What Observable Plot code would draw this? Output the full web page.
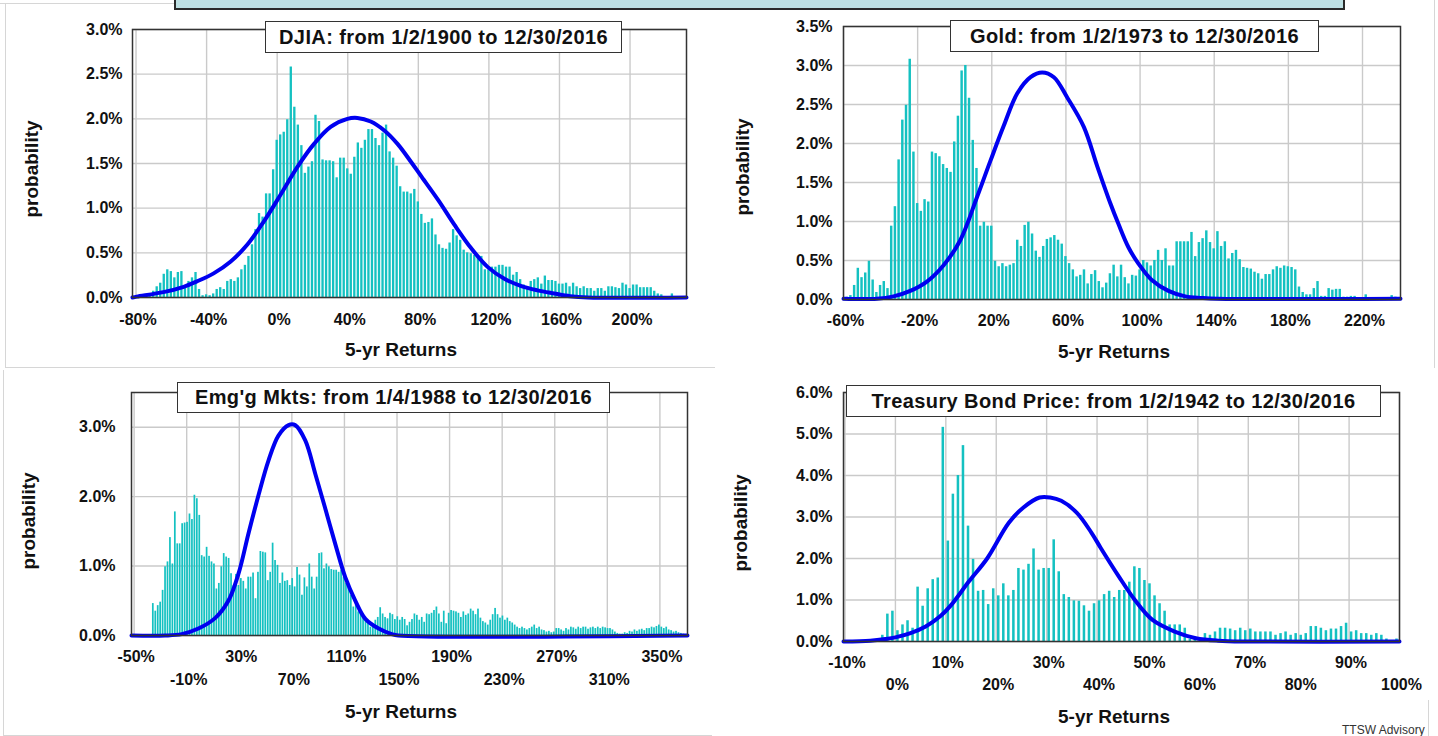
<!DOCTYPE html>
<html><head><meta charset="utf-8">
<script src="https://cdn.jsdelivr.net/npm/d3@7"></script>
<script src="https://cdn.jsdelivr.net/npm/@observablehq/plot@0.6"></script>
<style>
body{margin:0;background:#fff;font-family:"Liberation Sans",Arial,sans-serif;}
#page{position:relative;width:1438px;height:736px;overflow:hidden;background:#fff;}
.panel{position:absolute;}
.tbox{position:absolute;background:#fff;border:1.5px solid #333;box-sizing:border-box;font-weight:bold;font-size:20px;letter-spacing:0.4px;display:flex;align-items:center;justify-content:center;color:#111;white-space:nowrap;}
.xl{position:absolute;font-weight:bold;font-size:19px;color:#111;transform:translate(-50%,-50%);white-space:nowrap;}
.yl{position:absolute;font-weight:bold;font-size:19px;color:#111;transform:translate(-50%,-50%) rotate(-90deg);white-space:nowrap;}
.ln{position:absolute;background:#d6d6d6;}
</style></head><body><div id="page"></div>
<script>
// ---------- DATA ----------
// DJIA: 2% bins centered from -78%
const djiaStart = -78, djiaStep = 2;
const djiaValues = [
0.01,0.01,0.02,0.03,0.07,0.12,0.16,0.26,0.31,0.29,
0.22,0.28,0.29,0.12,0.18,0.22,0.28,0.09,0.02,0.03,
0.02,0.04,0.09,0.11,0.09,0.18,0.2,0.18,0.22,0.31,
0.36,0.46,0.59,0.76,0.94,0.9,1.16,1.16,1.43,1.76,
1.82,1.85,1.99,2.58,2.13,1.93,1.7,1.39,1.46,1.52,
2.04,1.97,1.54,1.53,1.53,1.52,1.34,1.56,1.56,1.44,
1.38,1.57,1.73,1.67,1.76,1.88,1.88,1.78,1.7,1.84,
1.93,1.63,1.56,1.47,1.24,1.18,1.18,1.16,1.21,1.07,
0.93,0.83,0.84,0.88,0.7,0.59,0.55,0.54,0.61,0.76,
0.69,0.64,0.53,0.5,0.49,0.47,0.46,0.46,0.31,0.31,
0.34,0.34,0.36,0.36,0.34,0.34,0.25,0.28,0.2,0.14,
0.12,0.18,0.2,0.22,0.15,0.24,0.19,0.19,0.18,0.15,
0.15,0.16,0.12,0.16,0.12,0.1,0.12,0.1,0.1,0.07,
0.1,0.1,0.07,0.12,0.12,0.11,0.1,0.16,0.14,0.1,
0.14,0.14,0.11,0.11,0.11,0.11,0.07,0.04,0.03,0.01,
0.01,0.04,0.01,0.01];
const djiaCurveX = [-82,-79.6,-64.5,-53,-45.5,-36,-26.5,-17,-7.6,1.9,11.4,20.9,30.3,39.8,45.5,53,60.7,68.2,75.8,81.9,91.3,100.6,110,119.4,128.8,138,147.5,157,166,176,232];
const djiaCurveY = [0,0.01,0.06,0.12,0.18,0.27,0.4,0.59,0.85,1.15,1.46,1.72,1.91,2.0,2.01,1.97,1.87,1.72,1.52,1.35,1.09,0.81,0.55,0.34,0.21,0.13,0.08,0.045,0.015,0,0];

// Gold: 2% bins centered from -58%
const goldStart = -58, goldStep = 2;
const goldValues = [
0.03,0.05,0.18,0.4,0.28,0.34,0.49,0.25,0.09,0.18,
0.23,0.14,0.94,1.19,1.79,2.3,2.49,3.08,1.89,1.23,
1.13,1.28,1.25,1.89,1.87,1.83,1.73,1.68,1.63,2.02,
2.35,2.93,3.0,2.58,2.04,1.68,0.94,0.99,0.94,0.94,
0.49,0.42,0.46,0.42,0.44,0.46,0.76,0.68,0.95,0.99,
0.84,0.62,0.54,0.68,0.77,0.79,0.82,0.76,0.71,0.55,
0.46,0.38,0.29,0.31,0.38,0.2,0.32,0.37,0.23,0.15,
0.21,0.33,0.44,0.29,0.44,
0.28,0.2,0.31,0.3,0.38,0.5,0.47,0.43,0.5,0.63,
0.5,0.65,0.43,0.43,0.74,0.74,0.74,0.74,0.86,0.55,
0.73,0.78,0.88,0.73,0.65,0.87,0.68,0.74,0.52,0.59,
0.63,0.51,0.41,0.4,0.39,0.35,0.33,0.26,0.32,0.32,
0.38,0.42,0.4,0.43,0.42,0.41,0.38,0.16,0.09,0.06,
0.06,0.14,0.23,0.04,0.04,0.14,0.12,0.13,0.13,0.03,
0.03,0.04,0.04,0.01,0.01,0.06,0.02,0.02,0.01,0.02,
0.01,0.02,0.05,0.03,0.02];
const goldCurveX = [-60,-42,-33,-24,-15,-6,3,12,19.3,26.5,33.7,40.9,47.2,53.5,60.7,69.7,77,84,88.3,93.7,99.1,106.3,115.3,124.4,133.4,142,240.5];
const goldCurveY = [0.01,0.01,0.04,0.11,0.23,0.44,0.76,1.31,1.78,2.23,2.64,2.85,2.91,2.85,2.59,2.21,1.7,1.23,0.97,0.67,0.46,0.25,0.11,0.04,0.02,0.01,0.01];

// Emerging markets: bins of ~1.86% centered from -35.4%
const emgStart = -35.4, emgStep = 1.86;
const emgValues = [
0.46,0.35,0.43,0.48,0.65,0.99,1.06,1.41,1.03,1.78,
1.32,1.32,1.61,1.62,1.63,1.75,1.67,2.02,1.97,1.73,
1.15,1.13,1.27,1.14,1.06,1.03,0.67,0.75,0.99,1.18,
1.13,1.11,0.89,0.72,0.88,0.72,0.82,0.78,0.67,0.84,
0.84,0.9,0.53,0.91,1.21,1.2,1.19,0.79,0.91,1.33,
1.08,1.01,0.75,0.9,0.78,0.79,0.72,0.82,0.7,0.98,
0.87,0.58,0.83,0.7,1.03,0.84,0.67,0.84,1.18,1.19,
0.96,1.03,0.99,0.95,0.94,0.94,0.91,0.94,0.84,0.75,
0.7,0.58,0.41,0.47,0.34,0.34,0.26,0.22,0.17,0.12,
0.14,0.22,0.26,0.4,0.31,0.26,0.24,0.32,0.3,0.23,
0.27,0.22,0.26,0.23,0.14,0.19,0.23,0.31,0.29,0.22,
0.26,0.19,0.31,0.3,0.32,0.36,0.41,0.31,0.19,0.35,
0.17,0.32,0.36,0.35,0.34,0.32,0.26,0.34,0.29,0.31,
0.38,0.35,0.3,0.38,0.25,0.2,0.18,0.15,0.22,0.3,0.39,0.3,0.25,
0.28,0.22,0.25,0.2,0.18,0.15,0.12,0.1,0.12,0.1,0.08,
0.1,0.12,0.15,0.1,0.12,0.08,0.07,0.05,0.06,0.04,0.05,
0.1,0.1,0.08,0.06,0.1,0.08,0.12,0.11,0.09,0.12,0.1,0.12,0.12,0.09,0.11,0.12,0.1,0.12,0.1,0.12,0.11,0.1,
0.1,0.08,0.05,0.03,0.02,0.02,0.04,0.03,0.06,0.05,0.08,0.06,0.08,0.09,0.07,0.1,0.1,0.12,0.11,0.13,0.15,0.12,
0.1,0.12,0.08,0.07,0.05,0.06,0.04,0.03,0.02,0.01];
const emgCurveX = [-52,-26.5,-13.8,-1.1,11.6,21.7,29.4,37,44.6,52.2,59.8,67.5,72.5,80.2,87.8,95.4,103,110.6,118.3,125.9,136,146,151,371];
const emgCurveY = [0,0,0.02,0.1,0.25,0.5,0.89,1.47,2.02,2.52,2.88,3.03,3.03,2.81,2.33,1.83,1.32,0.84,0.5,0.24,0.1,0.02,0,0];

// Treasury bond price: 1% bins [k, k+1] from -3%
const treasStart = -2.5, treasStep = 1;
const treasValues = [
0.15,0.66,0.73,0.26,0.4,0.5,0.32,1.31,0.85,1.27,
1.49,1.53,5.16,2.42,3.55,4.0,4.72,2.78,1.98,1.21,
1.23,0.89,1.27,1.1,1.39,1.1,1.23,1.76,1.72,1.86,
2.23,1.72,1.76,1.76,2.45,1.68,1.13,1.06,0.98,0.97,
0.86,0.73,0.91,0.98,1.13,1.21,1.06,1.23,1.23,1.43,
1.8,1.76,1.47,1.39,1.1,0.91,0.73,0.4,0.4,0.4,
0.32,0.05,0.05,0.05,0.19,0.15,0.23,0.32,0.32,0.3,
0.26,0.32,0.26,0.3,0.23,0.23,0.23,0.23,0.15,0.19,
0.23,0.15,0.19,0.15,0.19,0.36,0.36,0.32,0.26,0.3,
0.3,0.36,0.44,0.23,0.26,0.19,0.19,0.15,0.19,0.15,
0.06,0.0,0.06];
const treasCurveX = [-10.3,-5,-2,0,3,6,9,11,14.6,18.2,22.5,25.4,28.6,30.7,32.9,36,38.9,40.7,44.3,47.5,51,55.4,59.6,64,70,100];
const treasCurveY = [0,0.02,0.06,0.1,0.2,0.36,0.62,0.87,1.45,2.0,2.86,3.23,3.47,3.47,3.39,3.1,2.62,2.26,1.57,1.0,0.52,0.24,0.08,0.02,0,0];

// Ticks
const djiaXTicks = [-80,-40,0,40,80,120,160,200];
const djiaYTicks = [0,0.5,1,1.5,2,2.5,3];
const goldXTicks = [-60,-20,20,60,100,140,180,220];
const goldYTicks = [0,0.5,1,1.5,2,2.5,3,3.5];
const emgXTicksRow1 = [-50,30,110,190,270,350];
const emgXTicksRow2 = [-10,70,150,230,310];
const emgYTicks = [0,1,2,3];
const treasXTicksRow1 = [-10,10,30,50,70,90];
const treasXTicksRow2 = [0,20,40,60,80,100];
const treasYTicks = [0,1,2,3,4,5,6];

const titles = ["DJIA: from 1/2/1900 to 12/30/2016","Gold: from 1/2/1973 to 12/30/2016","Emg'g Mkts: from 1/4/1988 to 12/30/2016","Treasury Bond Price: from 1/2/1942 to 12/30/2016"];

// ---------- DRAW ----------
const BAR = "#14c1c1", CURVE = "#0000f0", GRID = "#cacaca", INK = "#111";
const page = document.getElementById("page");

function addDiv(cls, css, text) {
  const d = document.createElement("div");
  d.className = cls;
  Object.assign(d.style, css);
  if (text) d.textContent = text;
  page.appendChild(d);
  return d;
}

function drawPanel(c) {
  const bars = c.values.map((v, i) => {
    const m = c.start + i * c.step;
    return {x1: m - c.step * c.fill / 2, x2: m + c.step * c.fill / 2, y: v};
  });
  const curve = c.curveX.map((x, i) => ({x, y: c.curveY[i]}));
  const xTextMarks = c.xRows.map(r => Plot.text(r.ticks, {
    x: d => d, frameAnchor: "bottom", dy: r.dy, dx: 2, text: d => d + "%",
    fontSize: 16, fontWeight: "bold", fill: INK
  }));
  const svg = Plot.plot({
    width: c.w, height: c.h,
    marginLeft: c.mL, marginRight: c.mR, marginTop: c.mT, marginBottom: c.mB,
    x: {domain: c.xDomain, axis: null},
    y: {domain: c.yDomain, axis: null},
    style: {fontFamily: "'Liberation Sans', Arial, sans-serif", background: "transparent", overflow: "visible"},
    marks: [
      Plot.ruleX(c.xGrid, {x: d => d, stroke: GRID, strokeWidth: 1.4}),
      Plot.ruleY(c.yTicks, {y: d => d, stroke: GRID, strokeWidth: 1.4}),
      Plot.rect(bars, {x1: "x1", x2: "x2", y1: () => 0, y2: "y", fill: BAR}),
      Plot.line(curve, {x: "x", y: "y", stroke: CURVE, strokeWidth: 4, curve: "catmull-rom"}),
      Plot.frame({stroke: "#333", strokeWidth: 1.5}),
      Plot.text(c.yTicks, {y: d => d, frameAnchor: "left", textAnchor: "end", dx: -c.yPad,
        text: d => d.toFixed(1) + "%", fontSize: 16, fontWeight: "bold", fill: INK}),
      ...xTextMarks
    ]
  });
  const holder = addDiv("panel", {left: c.left + "px", top: c.top + "px", width: c.w + "px", height: c.h + "px"});
  holder.appendChild(svg);
}

// decorations (slide frame lines and banner)
addDiv("ln", {left: "0px", top: "3px", width: "175px", height: "1px"});
addDiv("ln", {left: "5px", top: "3px", width: "1px", height: "364px"});
addDiv("ln", {left: "5px", top: "367px", width: "710px", height: "1px"});
addDiv("ln", {left: "3px", top: "370px", width: "1px", height: "365px"});
addDiv("ln", {left: "3px", top: "735px", width: "709px", height: "1px"});
addDiv("ln", {left: "1434px", top: "0px", width: "1px", height: "368px"});
addDiv("ln", {left: "1428px", top: "700px", width: "1px", height: "36px"});

drawPanel({left: 0, top: 0, w: 719, h: 368, mL: 132, mR: 33, mT: 29, mB: 71,
  xDomain: [-82, 232], yDomain: [0, 3], xGrid: djiaXTicks, yTicks: djiaYTicks, yPad: 10,
  xRows: [{ticks: djiaXTicks, dy: 27}],
  values: djiaValues, start: djiaStart, step: djiaStep, fill: 0.66,
  curveX: djiaCurveX, curveY: djiaCurveY});
drawPanel({left: 719, top: 0, w: 719, h: 368, mL: 124, mR: 38, mT: 26, mB: 69,
  xDomain: [-60, 240.5], yDomain: [0, 3.5], xGrid: goldXTicks, yTicks: goldYTicks, yPad: 11,
  xRows: [{ticks: goldXTicks, dy: 26}],
  values: goldValues, start: goldStart, step: goldStep, fill: 0.66,
  curveX: goldCurveX, curveY: goldCurveY});
drawPanel({left: 0, top: 368, w: 719, h: 368, mL: 131, mR: 32, mT: 24, mB: 101,
  xDomain: [-52, 371], yDomain: [0, 3.5], xGrid: emgXTicksRow1.concat(emgXTicksRow2), yTicks: emgYTicks, yPad: 16,
  xRows: [{ticks: emgXTicksRow1, dy: 26}, {ticks: emgXTicksRow2, dy: 49}],
  values: emgValues, start: emgStart, step: emgStep, fill: 0.7,
  curveX: emgCurveX, curveY: emgCurveY});
drawPanel({left: 719, top: 368, w: 719, h: 368, mL: 124, mR: 39, mT: 24, mB: 95,
  xDomain: [-10.3, 100], yDomain: [0, 6], xGrid: treasXTicksRow1.concat(treasXTicksRow2), yTicks: treasYTicks, yPad: 11,
  xRows: [{ticks: treasXTicksRow1, dy: 26}, {ticks: treasXTicksRow2, dy: 48}],
  values: treasValues, start: treasStart, step: treasStep, fill: 0.5,
  curveX: treasCurveX, curveY: treasCurveY});

// banner (top, cut off)
addDiv("", {position: "absolute", left: "174px", top: "-3px", width: "1171px", height: "13px",
  background: "#bde0e3", border: "2px solid #2a2a2a", boxSizing: "border-box"});

// title boxes
const boxes = [[265, 21, 357, 32], [950, 20, 369, 32], [177, 382, 433, 31], [846, 385, 535, 32]];
boxes.forEach((b, i) => addDiv("tbox", {left: b[0] + "px", top: b[1] + "px", width: b[2] + "px", height: b[3] + "px"}, titles[i]));

// axis titles
[[401, 350], [1114, 352], [401, 712], [1114, 717]].forEach(p =>
  addDiv("xl", {left: p[0] + "px", top: p[1] + "px"}, "5-yr Returns"));
[[32, 169], [743, 167], [29, 521], [741, 523]].forEach(p =>
  addDiv("yl", {left: p[0] + "px", top: p[1] + "px"}, "probability"));

// caption
addDiv("", {position: "absolute", left: "1342px", top: "723px", fontSize: "12px", color: "#333", whiteSpace: "nowrap"}, "TTSW Advisory");
</script></body></html>
